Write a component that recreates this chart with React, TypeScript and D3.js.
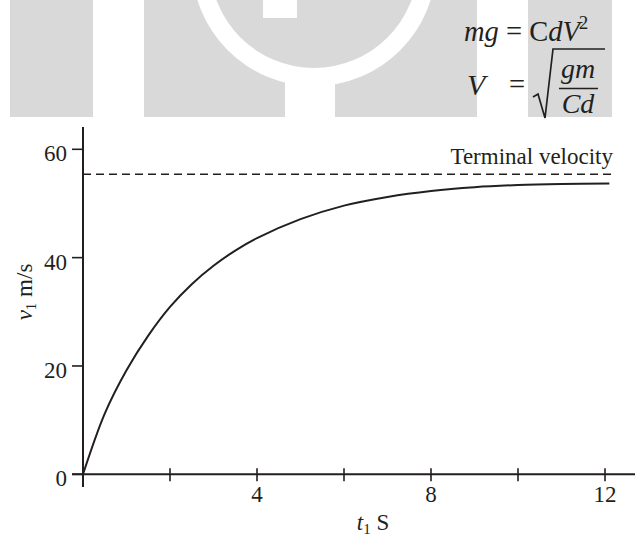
import React from "react";
import * as d3 from "d3";

const W = 635;
const H = 540;

// velocity curve samples (t in s, v in m/s)
const timeValues = [0, 0.5, 1, 1.5, 2, 2.5, 3, 3.5, 4, 5, 6, 7, 8, 9, 10, 11, 12.1];
const velocityValues = [0, 11.2, 19.2, 25.6, 30.9, 35.1, 38.5, 41.3, 43.6, 47.1, 49.6, 51.2, 52.3, 53.0, 53.4, 53.6, 53.7];
const terminalVelocity = 55.4;
const xTicks = [2, 4, 6, 8, 10, 12];
const xTickLabels = ["", "4", "", "8", "", "12"];
const yTicks = [0, 20, 40, 60];
const yTickLabels = ["0", "20", "40", "60"];

const INK = "#231f20";
const SHADE = "#d9d9d9";
const FONT = "'Liberation Serif', 'Times New Roman', serif";

export default function App() {
  const x = d3.scaleLinear().domain([0, 12]).range([83, 605]);
  const y = d3.scaleLinear().domain([0, 60]).range([474.3, 149.3]);

  const points: [number, number][] = timeValues.map((t, i) => [t, velocityValues[i]]);
  const line = d3
    .line<[number, number]>()
    .x((d) => x(d[0]))
    .y((d) => y(d[1]))
    .curve(d3.curveCatmullRom.alpha(0.5));

  const x0 = x(0);
  const y0 = y(0);

  return (
    <svg
      width={W}
      height={H}
      viewBox={`0 0 ${W} ${H}`}
      style={{ position: "absolute", left: 0, top: 0, background: "#fff" }}
      fontFamily={FONT}
    >
      <defs>
        <clipPath id="band">
          <rect x={0} y={0} width={W} height={117} />
        </clipPath>
      </defs>

      {/* background logo blocks */}
      <g clipPath="url(#band)">
        <rect x={10} y={0} width={83} height={117} fill={SHADE} />
        <rect x={144} y={0} width={333} height={117} fill={SHADE} />
        <circle cx={314} cy={-36} r={122} fill="#fff" />
        <circle cx={314} cy={-36} r={104} fill={SHADE} />
        <rect x={263} y={0} width={34} height={18} fill="#fff" />
        <rect x={285} y={72} width={50} height={45} fill="#fff" />
        <rect x={528} y={0} width={84} height={117} fill={SHADE} />
      </g>

      {/* formulas */}
      <g fill={INK} fontSize={28.5}>
        <text x={464} y={41}>
          <tspan fontStyle="italic">mg</tspan>
          <tspan> = C</tspan>
          <tspan fontStyle="italic">dV</tspan>
          <tspan fontSize={19} dy={-12} dx={-1}>2</tspan>
        </text>
        <text x={467} y={95} fontSize={30} fontStyle="italic">V</text>
        <text x={509} y={94}>=</text>
        <path
          d="M533,97 L538,94 L545,118 L553,49 L605,49"
          fill="none"
          stroke={INK}
          strokeWidth={1.7}
        />
        <text x={578} y={78} fontSize={28} fontStyle="italic" textAnchor="middle">gm</text>
        <line x1={559} x2={598} y1={88.5} y2={88.5} stroke={INK} strokeWidth={1.4} />
        <text x={578} y={113} fontSize={28} fontStyle="italic" textAnchor="middle">Cd</text>
      </g>

      {/* terminal velocity */}
      <line
        x1={x0}
        x2={613}
        y1={y(terminalVelocity)}
        y2={y(terminalVelocity)}
        stroke={INK}
        strokeWidth={1.6}
        strokeDasharray="8 5"
      />
      <text x={613} y={164} fontSize={23} fill={INK} textAnchor="end">
        Terminal velocity
      </text>

      {/* curve */}
      <path d={line(points) ?? ""} fill="none" stroke={INK} strokeWidth={2} />

      {/* axes */}
      <line x1={x0} x2={x0} y1={127} y2={487} stroke={INK} strokeWidth={2} />
      <line x1={72} x2={635} y1={y0} y2={y0} stroke={INK} strokeWidth={2} />

      {yTicks.map((v, i) => (
        <g key={`y${v}`}>
          <line x1={72} x2={x0} y1={y(v)} y2={y(v)} stroke={INK} strokeWidth={1.6} />
          <text
            x={67}
            y={y(v) + 12}
            fontSize={23}
            fill={INK}
            textAnchor="end"
          >
            {yTickLabels[i]}
          </text>
        </g>
      ))}

      {xTicks.map((t, i) => (
        <g key={`x${t}`}>
          <line x1={x(t)} x2={x(t)} y1={y0 - 6} y2={y0 + 7} stroke={INK} strokeWidth={1.6} />
          <text x={x(t)} y={502} fontSize={23} fill={INK} textAnchor="middle">
            {xTickLabels[i]}
          </text>
        </g>
      ))}

      {/* axis titles */}
      <text x={373} y={530} fontSize={23} fill={INK} textAnchor="middle">
        <tspan fontStyle="italic">t</tspan>
        <tspan fontSize={15} dy={4}>1</tspan>
        <tspan dy={-4}> S</tspan>
      </text>
      <text
        transform="translate(32,292) rotate(-90)"
        fontSize={23}
        fill={INK}
        textAnchor="middle"
      >
        <tspan fontStyle="italic">v</tspan>
        <tspan fontSize={15} dy={4}>1</tspan>
        <tspan dy={-4}> m/s</tspan>
      </text>
    </svg>
  );
}
